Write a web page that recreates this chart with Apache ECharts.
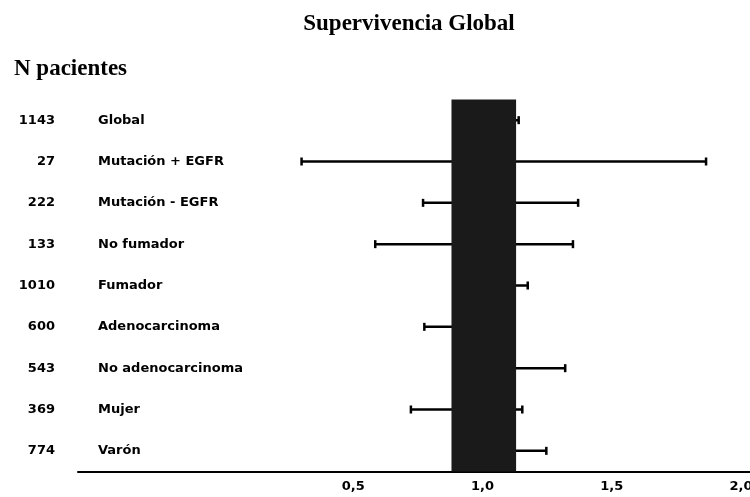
<!DOCTYPE html>
<html>
<head>
<meta charset="utf-8">
<script src="https://cdn.jsdelivr.net/npm/echarts@6/dist/echarts.min.js"></script>
<style>html,body{margin:0;padding:0;background:#fff}#c{width:750px;height:497px}</style>
</head>
<body>
<div id="c"></div>
<script>
var categories = ['Global','Mutación + EGFR','Mutación - EGFR','No fumador','Fumador','Adenocarcinoma','No adenocarcinoma','Mujer','Varón'];
var nPatients = [1143, 27, 222, 133, 1010, 600, 543, 369, 774];
var ciLow  = [0.93, 0.30, 0.77, 0.585, 0.96, 0.775, 0.96, 0.723, 0.98];
var ciHigh = [1.14, 1.865, 1.37, 1.35, 1.175, 1.05, 1.32, 1.154, 1.247];
var bandLow = 0.88, bandHigh = 1.13;
var tickValues = [0.5, 1.0, 1.5, 2.0];
var tickLabels = ['0,5', '1,0', '1,5', '2,0'];

var ciData = categories.map(function (c, i) { return [i, ciLow[i], ciHigh[i]]; });
var sans = 'DejaVu Sans';

var chart = echarts.init(document.getElementById('c'));
chart.setOption({
  animation: false,
  backgroundColor: '#fff',
  title: [
    { text: 'Supervivencia Global', left: 404, textAlign: 'center', top: 8,
      textStyle: { fontFamily: 'Liberation Serif', fontWeight: 'bold', fontSize: 23, color: '#000' } },
    { text: 'N pacientes', left: 9, top: 53,
      textStyle: { fontFamily: 'Liberation Serif', fontWeight: 'bold', fontSize: 23, color: '#000' } }
  ],
  grid: { left: 78, right: 0, top: 99.5, bottom: 25.5, containLabel: false, outerBoundsMode: 'none' },
  xAxis: {
    type: 'value', min: -0.565, max: 2.035,
    axisLine: { show: true, lineStyle: { color: '#000', width: 2 } },
    axisTick: { show: false },
    splitLine: { show: false },
    axisLabel: {
      customValues: tickValues,
      margin: 9,
      fontFamily: sans, fontWeight: 'bold', fontSize: 13, color: '#000',
      formatter: function (v) { var k = tickValues.indexOf(v); return k >= 0 ? tickLabels[k] : ''; }
    }
  },
  yAxis: [
    { type: 'category', data: nPatients.map(String), inverse: true, position: 'left',
      axisLine: { show: false }, axisTick: { show: false }, splitLine: { show: false },
      axisLabel: { margin: 23, align: 'right', fontFamily: sans, fontWeight: 'bold', fontSize: 13, color: '#000' } },
    { type: 'category', data: categories, inverse: true, position: 'left',
      axisLine: { show: false }, axisTick: { show: false }, splitLine: { show: false },
      axisLabel: { inside: true, margin: 20, align: 'left', fontFamily: sans, fontWeight: 'bold', fontSize: 13, color: '#000' } }
  ],
  series: [
    {
      type: 'custom', z: 2, yAxisIndex: 0,
      data: ciData,
      encode: { x: [1, 2], y: 0 },
      renderItem: function (params, api) {
        var cat = api.value(0);
        var a = api.coord([api.value(1), cat]);
        var b = api.coord([api.value(2), cat]);
        var h = 4;
        var st = { stroke: '#000', lineWidth: 2.5 };
        return { type: 'group', children: [
          { type: 'line', shape: { x1: a[0], y1: a[1], x2: b[0], y2: b[1] }, style: st },
          { type: 'line', shape: { x1: a[0], y1: a[1] - h, x2: a[0], y2: a[1] + h }, style: st },
          { type: 'line', shape: { x1: b[0], y1: b[1] - h, x2: b[0], y2: b[1] + h }, style: st }
        ] };
      }
    },
    {
      type: 'custom', z: 3, yAxisIndex: 0,
      data: [[bandLow, bandHigh, 0]],
      encode: { x: [0, 1], y: 2 },
      renderItem: function (params, api) {
        var cs = params.coordSys;
        var x1 = api.coord([api.value(0), 0])[0];
        var x2 = api.coord([api.value(1), 0])[0];
        return { type: 'rect', shape: { x: x1, y: cs.y, width: x2 - x1, height: cs.height },
                 style: { fill: '#1a1a1a' } };
      }
    }
  ]
});
</script>
</body>
</html>
